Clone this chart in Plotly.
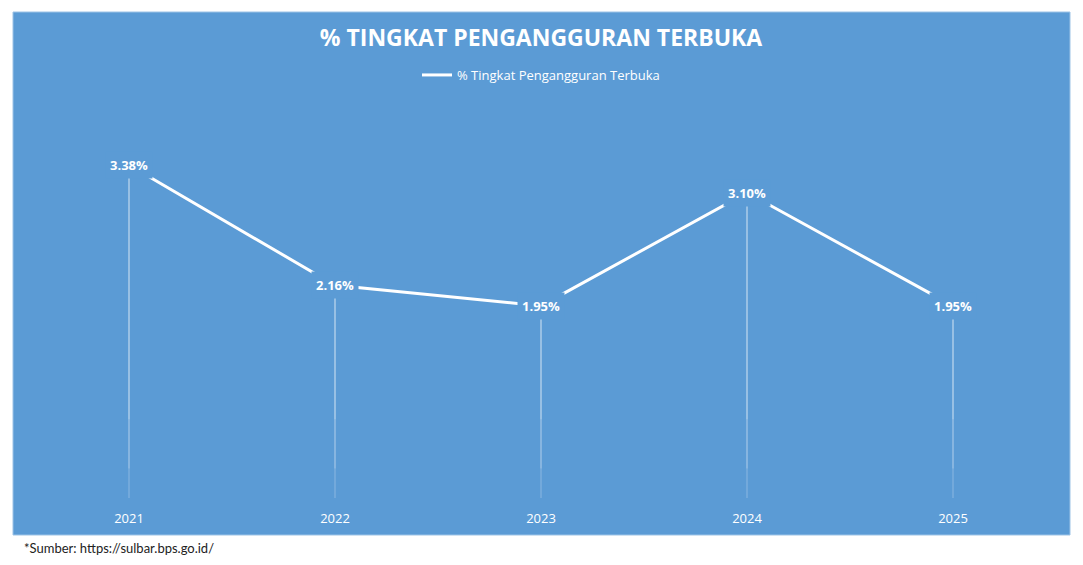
import plotly.graph_objects as go

years = ["2021", "2022", "2023", "2024", "2025"]
rates = [3.38, 2.16, 1.95, 3.10, 1.95]
labels = ["3.38%", "2.16%", "1.95%", "3.10%", "1.95%"]
series_name = "% Tingkat Pengangguran Terbuka"
title_text = "% TINGKAT PENGANGGURAN TERBUKA"
source_text = "*Sumber: https://sulbar.bps.go.id/"

BLUE = "#5B9BD5"
OFF = 8  # page body margin
W, H = 1083 - 2 * OFF, 565 - 2 * OFF
L = 26 - OFF
T = 104 - OFF
plot_right = 1056 - OFF
plot_bottom = 498 - OFF
R = W - plot_right
B = H - plot_bottom
pw = W - L - R
ph = H - T - B

def px_to_paper_x(px):
    return (px - OFF - L) / pw

def px_to_paper_y(py):
    return (plot_bottom - (py - OFF)) / ph

fig = go.Figure()

# drop lines, layered so they fade toward the bottom
for floor_level in [0.0, 0.3, 0.8]:
    fig.add_trace(go.Scatter(
        x=years, y=rates, mode="markers", marker=dict(size=1, color="rgba(0,0,0,0)"),
        error_y=dict(type="data", symmetric=False, array=[0] * len(rates),
                     arrayminus=[max(v - floor_level, 0) for v in rates],
                     color="rgba(255,255,255,0.3)", thickness=1, width=0),
        showlegend=False, hoverinfo="skip"))

fig.add_trace(go.Scatter(
    x=years, y=rates, mode="lines", name=series_name,
    line=dict(color="white", width=3), hoverinfo="x+y"))

for i, (y, t) in enumerate(zip(rates, labels)):
    fig.add_annotation(x=i, y=y, xref="x", yref="y", text="<b>" + t + "</b>",
                       showarrow=False, bgcolor=BLUE, borderpad=4,
                       font=dict(family="Open Sans", size=13, color="white"))

fig.add_shape(type="rect", xref="paper", yref="paper",
              x0=px_to_paper_x(13), x1=px_to_paper_x(1070),
              y0=px_to_paper_y(535), y1=px_to_paper_y(12),
              fillcolor=BLUE, line=dict(color="#9DC3E6", width=1), layer="below")

fig.add_annotation(x=px_to_paper_x(22), y=px_to_paper_y(548), xref="paper", yref="paper",
                   xanchor="left", yanchor="middle", showarrow=False, text=source_text,
                   font=dict(family="Lato", size=13, color="#222222"))

fig.update_layout(
    width=W, height=H,
    margin=dict(l=L, r=R, t=T, b=B),
    paper_bgcolor="white", plot_bgcolor="rgba(0,0,0,0)",
    title=dict(text="<b>" + title_text + "</b>", x=(541 - OFF) / W,
               xanchor="center", y=1 - (38 - OFF) / H, yanchor="middle",
               font=dict(family="Open Sans", size=23, color="white")),
    legend=dict(orientation="h", x=0.5, xanchor="center", y=px_to_paper_y(75),
                yanchor="middle", bgcolor="rgba(0,0,0,0)",
                font=dict(family="Open Sans", size=13, color="white")),
    xaxis=dict(type="category", range=[-0.5, len(years) - 0.5], showgrid=False,
               zeroline=False, showline=False, ticks="", ticklabelstandoff=11,
               tickfont=dict(family="Open Sans", size=13, color="white")),
    yaxis=dict(range=[0, 4], visible=False),
    showlegend=True,
)

fig.write_html("out.html")
